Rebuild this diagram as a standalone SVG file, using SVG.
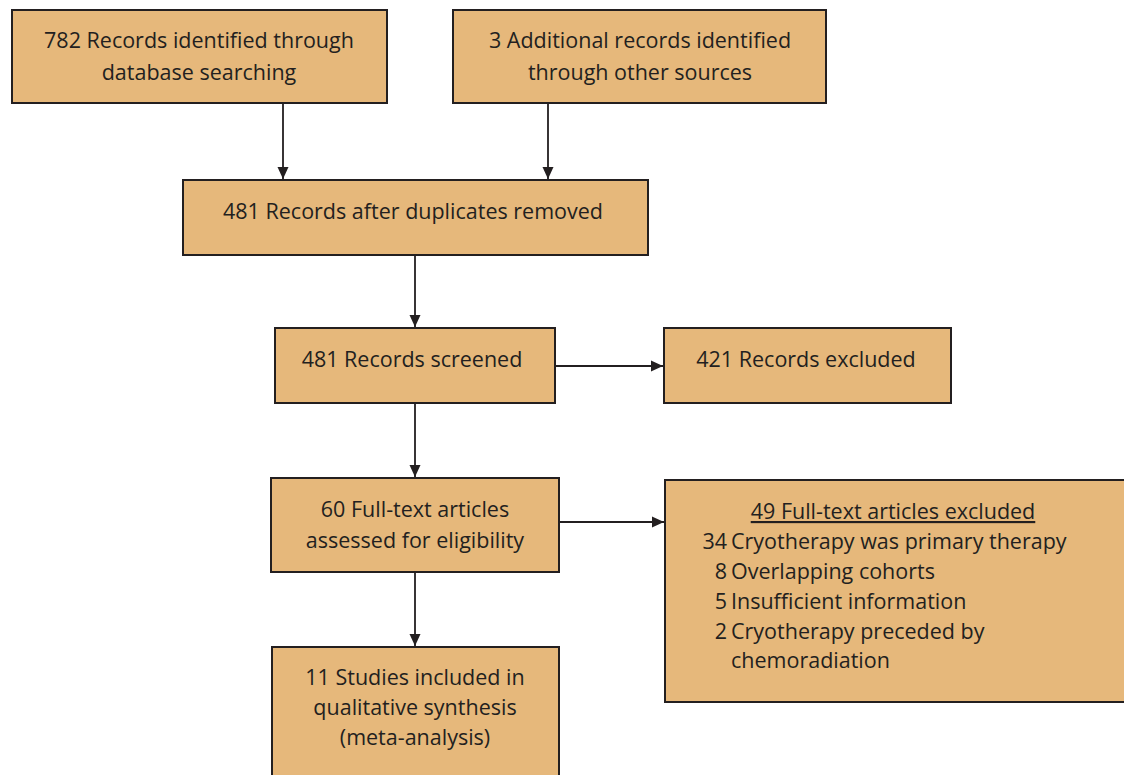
<svg xmlns="http://www.w3.org/2000/svg" width="1124" height="775" viewBox="0 0 1124 775">
<defs>
<marker id="ah" viewBox="0 0 12 12" refX="12" refY="6" markerWidth="12" markerHeight="12" markerUnits="userSpaceOnUse" orient="auto">
<path d="M0,0.5 L12,6 L0,11.5 z" fill="#231f20"/>
</marker>
<style>
.box{fill:#e6b87b;stroke:#231f20;stroke-width:2}
.t{font-family:"Open Sans","Liberation Sans",sans-serif;font-size:21.5px;fill:#231f20}
.c{text-anchor:middle}
.e{text-anchor:end}
.ln{stroke:#231f20;stroke-width:1.8;fill:none;marker-end:url(#ah)}
</style>
</defs>
<rect width="1124" height="775" fill="#ffffff"/>
<g id="connectors">
<line class="ln" x1="283" y1="103" x2="283" y2="179"/>
<line class="ln" x1="548" y1="103" x2="548" y2="179"/>
<line class="ln" x1="415" y1="255" x2="415" y2="327"/>
<line class="ln" x1="555" y1="366" x2="663" y2="366"/>
<line class="ln" x1="415" y1="403" x2="415" y2="477"/>
<line class="ln" x1="559" y1="522" x2="664" y2="522"/>
<line class="ln" x1="415" y1="572" x2="415" y2="646"/>
</g>
<g id="n1">
<rect class="box" x="12" y="10" width="375" height="93"/>
<text class="t c" x="199" y="48">782 Records identified through</text>
<text class="t c" x="199" y="80">database searching</text>
</g>
<g id="n2">
<rect class="box" x="453" y="10" width="373" height="93"/>
<text class="t c" x="640" y="48">3 Additional records identified</text>
<text class="t c" x="640" y="80">through other sources</text>
</g>
<g id="n3">
<rect class="box" x="183" y="180" width="465" height="75"/>
<text class="t c" x="413" y="219">481 Records after duplicates removed</text>
</g>
<g id="n4">
<rect class="box" x="275" y="328" width="280" height="75"/>
<text class="t c" x="412" y="367">481 Records screened</text>
</g>
<g id="n5">
<rect class="box" x="664" y="328" width="287" height="75"/>
<text class="t c" x="806" y="367">421 Records excluded</text>
</g>
<g id="n6">
<rect class="box" x="271" y="478" width="288" height="94"/>
<text class="t c" x="415" y="517">60 Full-text articles</text>
<text class="t c" x="415" y="548">assessed for eligibility</text>
</g>
<g id="n7">
<rect class="box" x="665" y="480" width="464" height="222"/>
<text class="t c" x="893" y="519" text-decoration="underline">49 Full-text articles excluded</text>
<text class="t e" x="727" y="549">34</text><text class="t" x="731" y="549">Cryotherapy was primary therapy</text>
<text class="t e" x="727" y="579">8</text><text class="t" x="731" y="579">Overlapping cohorts</text>
<text class="t e" x="727" y="609">5</text><text class="t" x="731" y="609">Insufficient information</text>
<text class="t e" x="727" y="639">2</text><text class="t" x="731" y="639">Cryotherapy preceded by</text>
<text class="t" x="731" y="668">chemoradiation</text>
</g>
<g id="n8">
<rect class="box" x="272" y="647" width="287" height="140"/>
<text class="t c" x="415" y="685">11 Studies included in</text>
<text class="t c" x="415" y="715">qualitative synthesis</text>
<text class="t c" x="415" y="745">(meta-analysis)</text>
</g>
</svg>
